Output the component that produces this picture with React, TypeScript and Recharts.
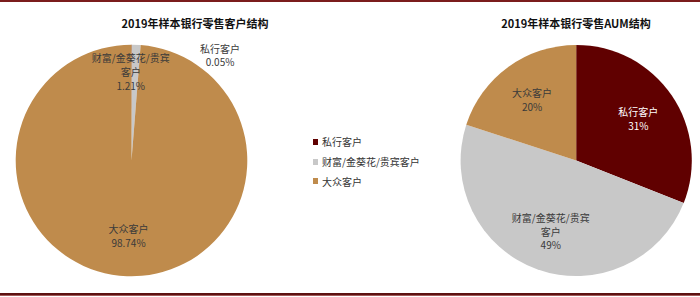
import React from "react";
import { PieChart, Pie, Cell, Legend } from "recharts";

const categories = ["私行客户", "财富/金葵花/贵宾客户", "大众客户"];
const categoryLabelLines = [["私行客户"], ["财富/金葵花/贵宾", "客户"], ["大众客户"]];
const customerShare = [0.05, 1.21, 98.74];
const aumShare = [31, 49, 20];
const sliceColors = ["#600000", "#C8C8C8", "#BF8B4C"];
const titles = ["2019年样本银行零售客户结构", "2019年样本银行零售AUM结构"];

const customerData = categories.map((name, i) => ({ name, value: customerShare[i] }));
const aumData = categories.map((name, i) => ({ name, value: aumShare[i] }));

const FONT = "'Noto Sans CJK SC', 'Noto Sans', sans-serif";
const RAD = Math.PI / 180;
const LINE_H = 13.8;

function MultiLine({ x, y, lines, fill }: { x: number; y: number; lines: string[]; fill: string }) {
  const start = y - ((lines.length - 1) * LINE_H) / 2;
  return (
    <text x={x} textAnchor="middle" fontFamily={FONT} fontSize={10} fill={fill}>
      {lines.map((l, i) => (
        <tspan key={i} x={x} y={start + i * LINE_H} dominantBaseline="central">
          {l}
        </tspan>
      ))}
    </text>
  );
}

const customerLabel = (props: any) => {
  const { cx, cy, midAngle, outerRadius, index, value } = props;
  let angle = midAngle;
  let r = outerRadius * 0.65;
  if (index === 0) {
    angle = 50;
    r = outerRadius * 1.19;
  } else if (index === 1) {
    angle = 90.5;
    r = outerRadius * 0.77;
  }
  const x = cx + r * Math.cos(-angle * RAD);
  const y = cy + r * Math.sin(-angle * RAD);
  const lines = [...categoryLabelLines[index], `${Number(value).toFixed(2)}%`];
  return <MultiLine key={`cl${index}`} x={x} y={y} lines={lines} fill="#3a3a3a" />;
};

const aumLabel = (props: any) => {
  const { cx, cy, midAngle, outerRadius, index, value } = props;
  const r = outerRadius * 0.65;
  const x = cx + r * Math.cos(-midAngle * RAD);
  const y = cy + r * Math.sin(-midAngle * RAD);
  const lines = [...categoryLabelLines[index], `${value}%`];
  return <MultiLine key={`al${index}`} x={x} y={y} lines={lines} fill={index === 0 ? "#ffffff" : "#3a3a3a"} />;
};

const LegendContent = () => (
  <div style={{ fontFamily: FONT, fontSize: 10, color: "#333" }}>
    {categories.map((c, i) => (
      <div key={c} style={{ display: "flex", alignItems: "center", height: 19.7 }}>
        <span style={{ width: 5, height: 6, background: sliceColors[i], marginRight: 4, display: "inline-block" }} />
        <span>{c}</span>
      </div>
    ))}
  </div>
);

export default function App() {
  return (
    <div style={{ position: "absolute", left: 0, top: 0, width: 700, height: 297, background: "#fff" }}>
      <div style={{ position: "absolute", left: 0, top: 0, width: 700, height: 2, background: "#7B1C1C" }} />
      <div style={{ position: "absolute", left: 0, top: 293, width: 700, height: 1.5, background: "#5E1212" }} />
      <div style={{ position: "absolute", left: 0, top: 294.5, width: 700, height: 1.5, background: "#A35A5A" }} />
      {titles.map((t, i) => (
        <div
          key={t}
          style={{
            position: "absolute",
            left: i === 0 ? 195 - 100 : 576 - 100,
            top: 15,
            width: 200,
            textAlign: "center",
            fontFamily: FONT,
            fontWeight: 700,
            fontSize: 11,
            lineHeight: "16px",
            color: "#111",
          }}
        >
          {t}
        </div>
      ))}
      <PieChart
        width={700}
        height={297}
        margin={{ top: 0, right: 0, bottom: 0, left: 0 }}
        style={{ position: "absolute", left: 0, top: 0 }}
      >
        <Pie
          data={customerData}
          dataKey="value"
          nameKey="name"
          cx={131.5}
          cy={160.5}
          outerRadius={115.8}
          startAngle={90}
          endAngle={-270}
          stroke="none"
          isAnimationActive={false}
          labelLine={false}
          label={customerLabel}
        >
          {customerData.map((d, i) => (
            <Cell key={d.name} fill={sliceColors[i]} />
          ))}
        </Pie>
        <Pie
          data={aumData}
          dataKey="value"
          nameKey="name"
          cx={576.2}
          cy={160.5}
          outerRadius={115.6}
          startAngle={90}
          endAngle={-270}
          stroke="none"
          isAnimationActive={false}
          labelLine={false}
          label={aumLabel}
        >
          {aumData.map((d, i) => (
            <Cell key={d.name} fill={sliceColors[i]} />
          ))}
        </Pie>
        <Legend
          content={LegendContent}
          layout="vertical"
          wrapperStyle={{ position: "absolute", left: 313, top: 132, width: 140 }}
        />
      </PieChart>
    </div>
  );
}
